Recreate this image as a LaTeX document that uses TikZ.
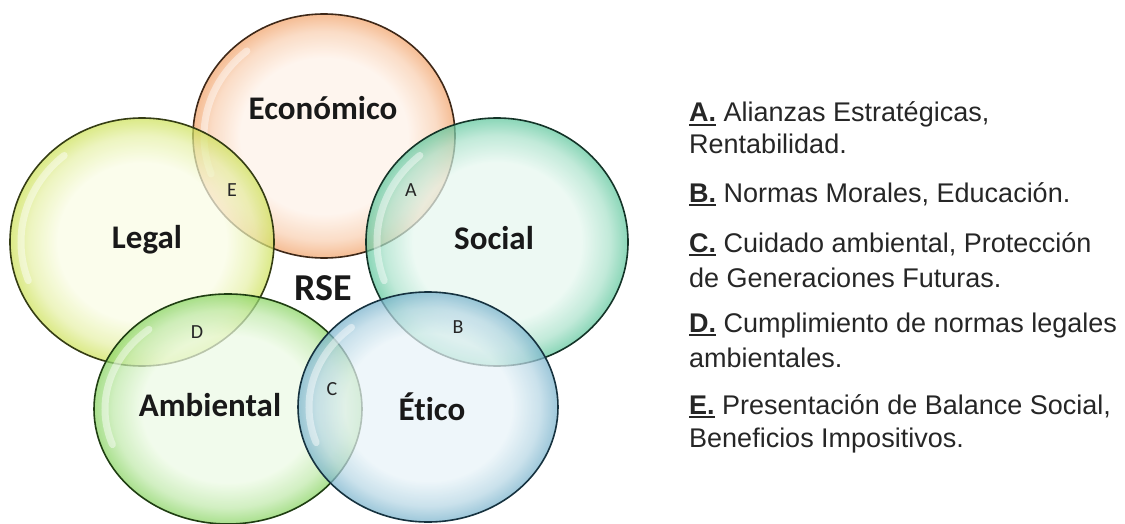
\documentclass[tikz,border=0pt]{standalone}
\usepackage{fontspec}
\setmainfont{Liberation Sans}
\newfontfamily\calibri[Ligatures=NoCommon]{Carlito}
\usetikzlibrary{positioning}

\definecolor{econA}{HTML}{FEF1E7}
\definecolor{econB}{HTML}{F09A5C}
\definecolor{econC}{HTML}{3E2818}
\definecolor{legalA}{HTML}{F9FCE4}
\definecolor{legalB}{HTML}{C8DE48}
\definecolor{legalC}{HTML}{353D14}
\definecolor{socialA}{HTML}{E6F7EF}
\definecolor{socialB}{HTML}{4EC193}
\definecolor{socialC}{HTML}{143428}
\definecolor{ambA}{HTML}{ECFAE4}
\definecolor{ambB}{HTML}{7CCF52}
\definecolor{ambC}{HTML}{1F3E12}
\definecolor{eticoA}{HTML}{E8F3F8}
\definecolor{eticoB}{HTML}{6AAAC6}
\definecolor{eticoC}{HTML}{16323F}

\colorlet{bubin}{white}
\colorlet{bubout}{gray}
% 25bp is the rim of the shaded path
\pgfdeclareradialshading[bubin,bubout]{glossy}{\pgfpoint{0bp}{0bp}}{color(0bp)=(bubin); color(16bp)=(bubin); color(21.5bp)=(bubout!40!bubin); color(25bp)=(bubout!90!bubin); color(50bp)=(bubout)}

\newcommand{\keymark}[1]{\setbox0=\hbox{\bfseries #1}\rlap{\rule[-4pt]{\wd0}{2pt}}\box0}

\begin{document}
\begin{tikzpicture}[x=1pt,y=-1pt]
\tikzstyle{ringshade}=[shading=glossy, fill opacity=0.72]
\tikzstyle{ring label}=[font=\calibri\bfseries\fontsize{33}{33}\selectfont, text=black!90]
\tikzstyle{meet label}=[font=\calibri\fontsize{20}{20}\selectfont, text=black!85]
\tikzstyle{key line}=[anchor=base west, inner sep=0pt, font=\fontsize{27}{30}\selectfont, text=black!85]

\useasboundingbox (0,0) rectangle (1125,524);

% the five rings
\foreach \cx/\cy/\rx/\ry/\tint in {324/136/131/122/econ, 142/242/132/124/legal,
  497/242/131/124/social, 228/409/134/115/amb, 428/407/130/115/etico} {
\colorlet{bubin}{\tint A}
\colorlet{bubout}{\tint B}
\shade[ringshade] (\cx,\cy) ellipse [x radius=\rx, y radius=\ry];
\pgfmathsetmacro\hx{\rx-11}
\pgfmathsetmacro\hy{\ry-11}
\pgfmathsetmacro\px{\cx+\hx*cos(160)}
\pgfmathsetmacro\py{\cy+\hy*sin(160)}
\draw [white, line width=7pt, opacity=0.45, line cap=round]
  (\px,\py) arc [start angle=160, end angle=230, x radius=\hx, y radius=\hy];
\draw [draw=\tint C, line width=1.6pt] (\cx,\cy) ellipse [x radius=\rx, y radius=\ry];
}

\node[ring label] (econ) at (323,108) {Económico};
\node[ring label] (legal) at (147,240) {Legal};
\node[ring label] (social) at (494,238) {Social};
\node[ring label] (amb) at (210,405) {Ambiental};
\node[ring label] (etico) at (432,407) {Ético};
\node[ring label, font=\calibri\bfseries\fontsize{38}{38}\selectfont] (rse) at (323,288) {RSE};

\node[meet label] (mA) at (411,190) {A};
\node[meet label] (mB) at (458,327) {B};
\node[meet label] (mC) at (332,389) {C};
\node[meet label] (mD) at (197,332) {D};
\node[meet label] (mE) at (232,190) {E};

% list on the right
\foreach \nm/\y/\txt in {a1/122/{\keymark{A.}\ Alianzas Estratégicas,}, a2/154/{Rentabilidad.},
  b1/202/{\keymark{B.}\ Normas Morales, Educación.},
  c1/252/{\keymark{C.}\ Cuidado ambiental, Protección}, c2/287/{de Generaciones Futuras.},
  d1/332/{\keymark{D.}\ Cumplimiento de normas legales}, d2/367/{ambientales.},
  e1/414/{\keymark{E.}\ Presentación de Balance Social,}, e2/447/{Beneficios Impositivos.}} {
\node[key line] (\nm) at (689,\y) {\txt};
}

\end{tikzpicture}
\end{document}
